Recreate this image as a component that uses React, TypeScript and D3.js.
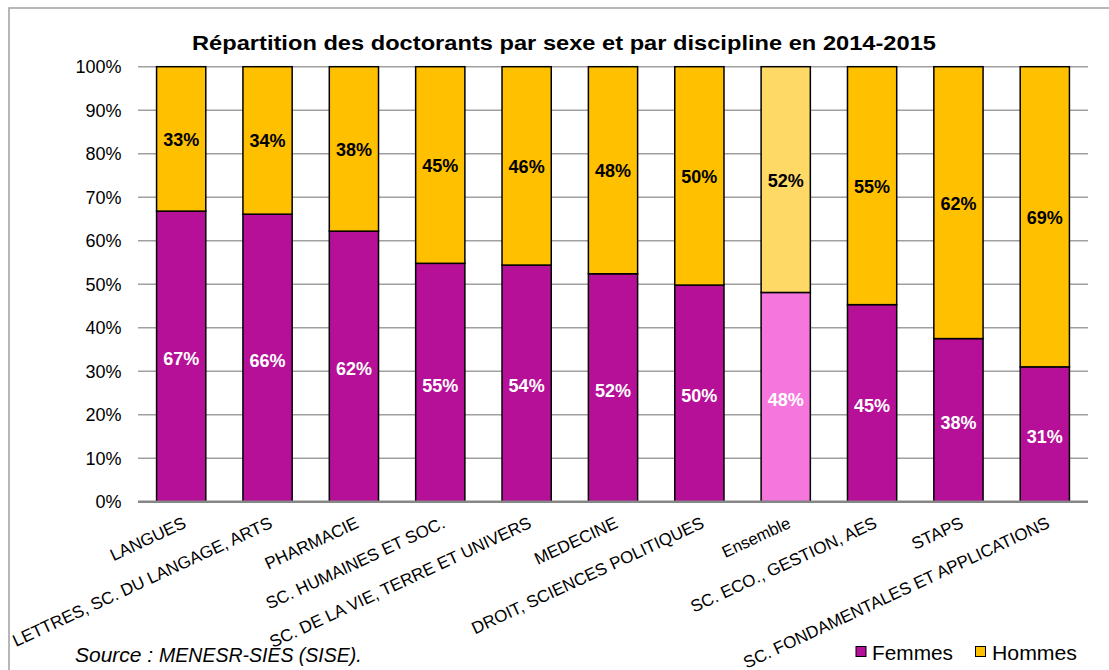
import React from "react";
import * as d3 from "d3";

const categories = [
  "LANGUES",
  "LETTRES, SC. DU LANGAGE, ARTS",
  "PHARMACIE",
  "SC. HUMAINES ET SOC.",
  "SC. DE LA VIE, TERRE ET UNIVERS",
  "MEDECINE",
  "DROIT, SCIENCES POLITIQUES",
  "Ensemble",
  "SC. ECO., GESTION, AES",
  "STAPS",
  "SC. FONDAMENTALES ET APPLICATIONS",
];
const femmes = [66.8, 66.1, 62.2, 54.8, 54.4, 52.4, 49.8, 48.1, 45.3, 37.5, 31.0];
const hommes = [33.2, 33.9, 37.8, 45.2, 45.6, 47.6, 50.2, 51.9, 54.7, 62.5, 69.0];
const femmesLabels = ["67%", "66%", "62%", "55%", "54%", "52%", "50%", "48%", "45%", "38%", "31%"];
const hommesLabels = ["33%", "34%", "38%", "45%", "46%", "48%", "50%", "52%", "55%", "62%", "69%"];
const yTicks = [0, 10, 20, 30, 40, 50, 60, 70, 80, 90, 100];
const highlight = "Ensemble";

const W = 1109;
const H = 670;
const left = 138;
const right = 1088;
const top = 66.7;
const bottom = 501.7;

const C_F = "#B60F98";
const C_F_HL = "#F577DE";
const C_H = "#FFC000";
const C_H_HL = "#FFD966";
const FONT = "Liberation Sans, Arial, sans-serif";

export default function App() {
  const x = d3
    .scaleBand<string>()
    .domain(categories)
    .range([left, right])
    .paddingInner(0.43)
    .paddingOuter(0.215);
  const y = d3.scaleLinear().domain([0, 100]).range([bottom, top]);
  const bw = x.bandwidth();

  return (
    <svg width={W} height={H} style={{ position: "absolute", left: 0, top: 0, background: "#fff" }} fontFamily={FONT}>
      <rect x={9} y={8} width={1200} height={800} fill="#fff" stroke="#A0A0A0" strokeWidth={1.5} />
      <text x={564} y={50} textAnchor="middle" fontSize={20.5} fontWeight="bold" fill="#000" textLength={744} lengthAdjust="spacingAndGlyphs">
        Répartition des doctorants par sexe et par discipline en 2014-2015
      </text>
      {yTicks.map((t) => (
        <g key={t}>
          {t > 0 && (
            <line x1={left} x2={right} y1={y(t)} y2={y(t)} stroke="#A0A0A0" strokeWidth={1.5} />
          )}
          <text x={121.5} y={y(t) + 6.5} textAnchor="end" fontSize={18} fill="#000">
            {t}%
          </text>
        </g>
      ))}
      {categories.map((c, i) => {
        const x0 = x(c)!;
        const hl = c === highlight;
        const yF = y(femmes[i]);
        const yH = y(femmes[i] + hommes[i]);
        return (
          <g key={c}>
            <rect x={x0} y={yF} width={bw} height={bottom - yF} fill={hl ? C_F_HL : C_F} stroke="#000" strokeWidth={1.5} />
            <rect x={x0} y={yH} width={bw} height={yF - yH} fill={hl ? C_H_HL : C_H} stroke="#000" strokeWidth={1.5} />
            <text x={x0 + bw / 2} y={(yF + bottom) / 2 + 9} textAnchor="middle" fontSize={18} fontWeight="bold" fill="#fff">
              {femmesLabels[i]}
            </text>
            <text x={x0 + bw / 2} y={(yH + yF) / 2 + 7} textAnchor="middle" fontSize={18} fontWeight="bold" fill="#000">
              {hommesLabels[i]}
            </text>
          </g>
        );
      })}
      <line x1={left} x2={right} y1={bottom} y2={bottom} stroke="#868686" strokeWidth={2.5} />
      {categories.map((c) => {
        const cx = x(c)! + bw / 2 + 6;
        const cy = 527;
        const small = c === highlight;
        return (
          <text
            key={c}
            x={cx}
            y={cy}
            transform={`rotate(-25 ${cx} ${cy})`}
            textAnchor="end"
            fontSize={small ? 16.5 : 17}
            fill="#000"
          >
            {c}
          </text>
        );
      })}
      <text x={75} y={662} fontSize={21} fontStyle="italic" fill="#000">
        Source :{" "}
        <tspan fontSize={19.5}>MENESR-SIES  (SISE).</tspan>
      </text>
      <rect x={856} y={646.5} width={10} height={10} fill={C_F} stroke="#000" strokeWidth={1} />
      <text x={872} y={660} fontSize={20} fill="#000" textLength={81} lengthAdjust="spacingAndGlyphs">Femmes</text>
      <rect x={975.5} y={646.5} width={10} height={10} fill={C_H} stroke="#000" strokeWidth={1} />
      <text x={992} y={660} fontSize={20} fill="#000" textLength={85} lengthAdjust="spacingAndGlyphs">Hommes</text>
    </svg>
  );
}
